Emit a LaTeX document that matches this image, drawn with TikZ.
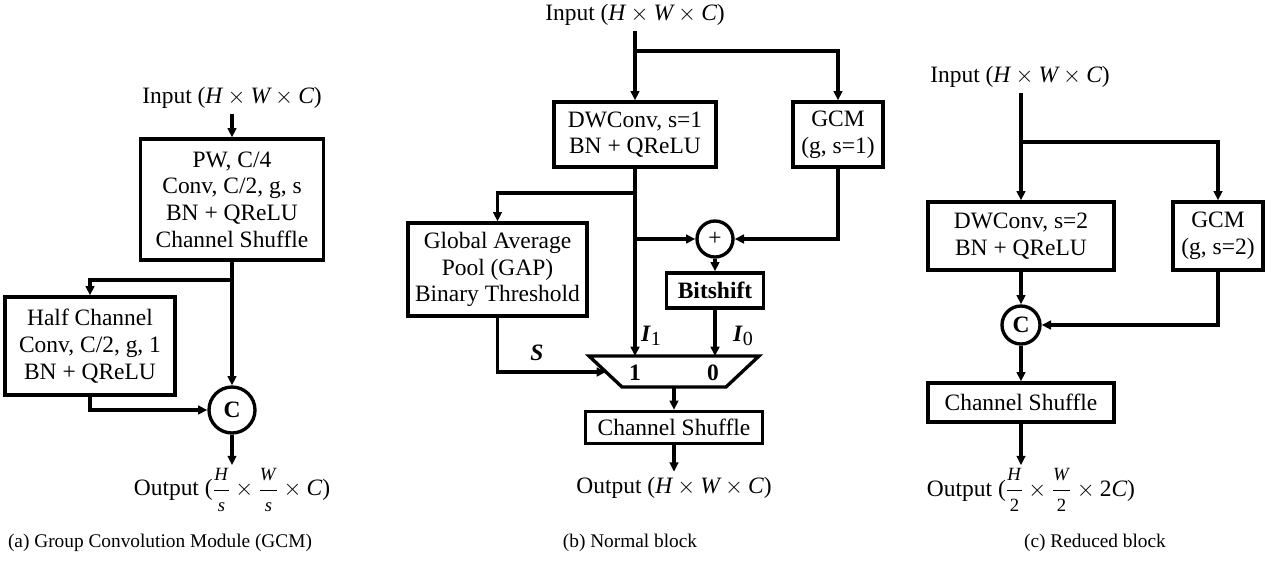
\documentclass[tikz,border=0pt]{standalone}
\usepackage{amsmath}
\usepackage{fontspec}
\setmainfont{Liberation Serif}
\usetikzlibrary{arrows.meta}
\newlength\pxu
\setlength\pxu{0.75pt}
\newcommand\myfr[2]{\dfrac{\text{\fontsize{14pt}{14pt}\selectfont #1}}{\text{\fontsize{14pt}{14pt}\selectfont #2}}}
\newcommand\mysub[2]{\textbf{\textit{#1}}\raisebox{-0.35ex}{\fontsize{15pt}{15pt}\selectfont #2}}
\begin{document}
\begin{tikzpicture}[x=0.75pt,y=-0.75pt,line width=2.5pt,
  >={Triangle[length=7pt,width=6.5pt]},
  every node/.style={font=\fontsize{17.6pt}{20pt}\selectfont,inner sep=0pt},
  box/.style={draw,line width=2.5pt,align=center},
  circ/.style={draw,circle,line width=2.5pt},
  txt/.style={inner sep=3pt},
  captext/.style={font=\fontsize{14.5pt}{17pt}\selectfont}]
\useasboundingbox (0,0) rectangle (1279,562);
% ---------------- (a)
\node[txt] (ain) at (232,98) {Input ($\textit{H}\times\textit{W}\times\textit{C}$)};
\node[box,minimum width=183*\pxu,minimum height=121*\pxu] (pw) at (232,199.5) {PW, C/4\\Conv, C/2, g, s\\BN + QReLU\\Channel Shuffle};
\node[box,minimum width=170*\pxu,minimum height=98*\pxu] (half) at (90,346) {Half Channel\\Conv, C/2, g, 1\\BN + QReLU};
\node[circ,minimum size=46*\pxu] (aC) at (232,410) {\textbf{C}};
\node[txt,inner sep=1pt] (aout) at (232,490) {Output ($\myfr{\textit{H}}{\textit{s}}\times\myfr{\textit{W}}{\textit{s}}\times\textit{C}$)};
\coordinate (abr) at (232,280);
\draw[->] (ain.south) -- (pw.north);
\draw[->] (pw.south) -- (aC.north);
\draw[->] (abr) -| (half.north);
\draw[->] (half.south) |- (aC.west);
\draw[->] (aC.south) -- (aout.north);
% ---------------- (b)
\node[txt] (bin) at (635,15) {Input ($\textit{H}\times\textit{W}\times\textit{C}$)};
\node[box,minimum width=162*\pxu,minimum height=65*\pxu] (bdw) at (635,134.5) {DWConv, s=1\\BN + QReLU};
\node[box,minimum width=90*\pxu,minimum height=65*\pxu] (bgcm) at (838,134.5) {GCM\\(g, s=1)};
\node[circ,minimum size=36*\pxu] (plus) at (715,239) {+};
\node[box,minimum width=179*\pxu,minimum height=93*\pxu] (gap) at (497.5,269.5) {Global Average\\Pool (GAP)\\Binary Threshold};
\node[box,minimum width=97*\pxu,minimum height=35*\pxu] (bit) at (715,290.5) {\textbf{Bitshift}};
\coordinate (muxA) at (589,356);
\coordinate (muxB) at (759,356);
\coordinate (muxC) at (726,387);
\coordinate (muxD) at (622,387);
\draw[line join=miter] (muxA) -- (muxB) -- (muxC) -- (muxD) -- cycle;
\node (m1) at (635,373) {\textbf{1}};
\node (m0) at (713,373) {\textbf{0}};
\coordinate (mI1) at (635,356);
\coordinate (mI0) at (715,356);
\coordinate (mS) at (606,372);
\coordinate (mOut) at (674,387);
\node[box,minimum width=177*\pxu,minimum height=32*\pxu] (bch) at (674,427.5) {Channel Shuffle};
\node[txt] (bout) at (674,488) {Output ($\textit{H}\times\textit{W}\times\textit{C}$)};
\node (lI1) at (651,336) {\mysub{I}{1}};
\node (lI0) at (743,336) {\mysub{I}{0}};
\node (lS) at (537,353) {\textbf{\textit{S}}};
\coordinate (bbr1) at (635,51);
\coordinate (bbr2) at (635,193);
\coordinate (bbr3) at (635,239);
\draw[->] (bin.south) -- (bdw.north);
\draw[->] (bbr1) -| (bgcm.north);
\draw[->] (bdw.south) -- (mI1);
\draw[->] (bbr2) -| (gap.north);
\draw[->] (bbr3) -- (plus.west);
\draw[->] (bgcm.south) |- (plus.east);
\draw[->] (plus.south) -- (bit.north);
\draw[->] (bit.south) -- (mI0);
\draw[->] (gap.south) |- (mS);
\draw[->] (mOut) -- (bch.north);
\draw[->] (bch.south) -- (bout.north);
% ---------------- (c)
\node[txt] (cin) at (1020,77) {Input ($\textit{H}\times\textit{W}\times\textit{C}$)};
\node[box,minimum width=186*\pxu,minimum height=68*\pxu] (cdw) at (1021,236) {DWConv, s=2\\BN + QReLU};
\node[box,minimum width=90*\pxu,minimum height=68*\pxu] (cgcm) at (1218,236) {GCM\\(g, s=2)};
\node[circ,minimum size=38*\pxu] (cC) at (1021,325) {\textbf{C}};
\node[box,minimum width=186*\pxu,minimum height=39*\pxu] (cch) at (1021,402.5) {Channel Shuffle};
\node[txt,inner sep=1pt] (cout) at (1031,490) {Output ($\myfr{\textit{H}}{2}\times\myfr{\textit{W}}{2}\times\text{2}\textit{C}$)};
\coordinate (cbr) at (1021,142);
\draw[->] (cin.south -| cdw.north) -- (cdw.north);
\draw[->] (cbr) -| (cgcm.north);
\draw[->] (cdw.south) -- (cC.north);
\draw[->] (cgcm.south) |- (cC.east);
\draw[->] (cC.south) -- (cch.north);
\draw[->] (cch.south) -- (cch.south |- cout.north);
% ---------------- captions
\node[captext] (capa) at (160,543) {(a) Group Convolution Module (GCM)};
\node[captext] (capb) at (630,543) {(b) Normal block};
\node[captext] (capc) at (1095,543) {(c) Reduced block};
\end{tikzpicture}
\end{document}
